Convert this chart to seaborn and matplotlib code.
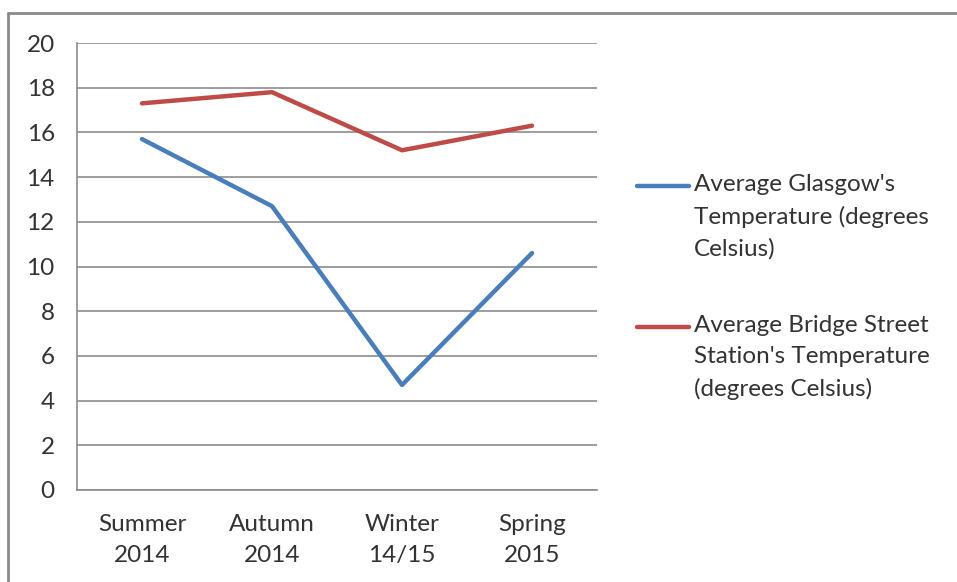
import numpy as np
import pandas as pd
import matplotlib
matplotlib.use("Agg")
import matplotlib.pyplot as plt
from matplotlib.lines import Line2D
from matplotlib.legend_handler import HandlerLine2D
import seaborn as sns

## data
seasons = ["Summer\n2014", "Autumn\n2014", "Winter\n14/15", "Spring\n2015"]
glasgow = [15.7, 12.7, 4.7, 10.6]
bridge_st = [17.3, 17.8, 15.2, 16.3]
series_names = ["Average Glasgow's\nTemperature (degrees\nCelsius)",
                "Average Bridge Street\nStation's Temperature\n(degrees Celsius)"]

df = pd.DataFrame({
    "season": seasons * 2,
    "x": list(range(len(seasons))) * 2,
    "temp": glasgow + bridge_st,
    "series": [series_names[0]] * 4 + [series_names[1]] * 4,
})

sns.set_style("white")
plt.rcParams['font.family'] = ['Lato', 'DejaVu Sans']
txt_col = "#333333"
grid_col = "#8c8c8c"
fs = 17.5
leg_ls = 1.58
line_pitch_pt = 22.0


# put legend line next to first text line instead of block centre
class FirstLineHandler(HandlerLine2D):
    def create_artists(self, legend, orig_handle, xdescent, ydescent,
                       width, height, fontsize, trans):
        arts = super().create_artists(legend, orig_handle, xdescent, ydescent,
                                      width, height, fontsize, trans)
        for a in arts:
            a.set_ydata(np.asarray(a.get_ydata()) + line_pitch_pt)
        return arts


fig = plt.figure(figsize=(9.57, 5.82), dpi=100)
ax = fig.add_axes([77/957, 92/582, 520/957, 447/582])

sns.lineplot(data=df, x="x", y="temp", hue="series", ax=ax,
             palette=["#4a7ebb", "#be4b48"], linewidth=3.2, legend=False,
             solid_capstyle="round", zorder=3)

ax.set_xlim(-0.5, 3.5)
ax.set_ylim(0, 20)
ax.set_yticks(np.arange(0, 21, 2))
ax.set_xticks(range(len(seasons)))
ax.set_xticklabels(seasons, fontsize=fs, color=txt_col)
for lab in ax.get_xticklabels():
    lab.set_linespacing(1.62)
ax.set_xticks(np.arange(-0.5, 4, 1), minor=True)
ax.tick_params(axis="x", which="major", length=0, pad=17)
ax.tick_params(axis="x", which="minor", length=7, width=1.2, color=grid_col, direction="out")
ax.tick_params(axis="y", length=7, width=1.2, color=grid_col, labelsize=fs,
               labelcolor=txt_col, pad=9)
ax.yaxis.grid(True, color=grid_col, linewidth=1.2)
ax.set_axisbelow(True)
ax.set_xlabel("")
ax.set_ylabel("")
for s in ["top", "right"]:
    ax.spines[s].set_visible(False)
for s in ["left", "bottom"]:
    ax.spines[s].set_color(grid_col)
    ax.spines[s].set_linewidth(1.2)

# legend to the right
handles = [Line2D([], [], color="#4a7ebb", linewidth=3.2, solid_capstyle="round"),
           Line2D([], [], color="#be4b48", linewidth=3.2, solid_capstyle="round")]
leg = fig.legend(handles, series_names, loc="upper left",
                 bbox_to_anchor=(625/957, 1 - 162/582), frameon=False,
                 fontsize=fs, handlelength=2.15, handletextpad=0.2,
                 labelspacing=2.3, borderpad=0,
                 handler_map={Line2D: FirstLineHandler()})
for t in leg.get_texts():
    t.set_color(txt_col)
    t.set_linespacing(leg_ls)

# outer chart border (top and left only visible)
fig.add_artist(Line2D([8/957, 1], [1 - 13/582, 1 - 13/582], color="#8a8a8a", linewidth=2))
fig.add_artist(Line2D([8/957, 8/957], [0, 1 - 13/582], color="#8a8a8a", linewidth=2))

fig.savefig("out.png", dpi=100)
